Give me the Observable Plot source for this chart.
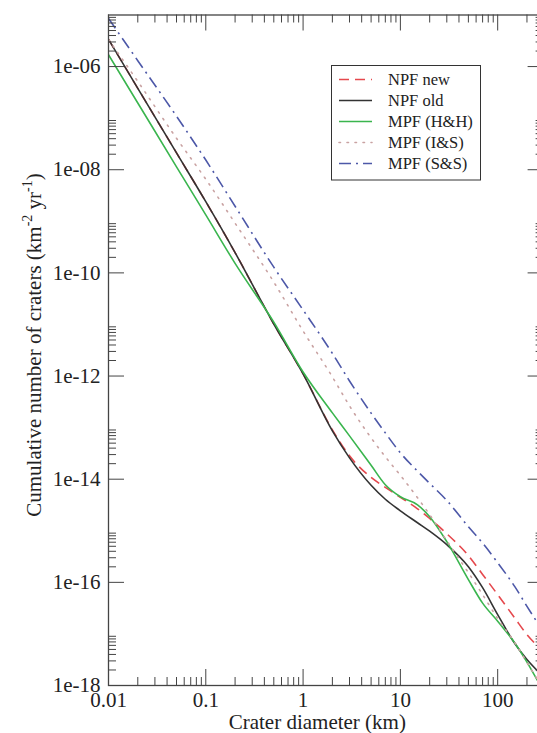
<!DOCTYPE html>
<html><head><meta charset="utf-8">
<script src="https://cdn.jsdelivr.net/npm/d3@7"></script>
<script src="https://cdn.jsdelivr.net/npm/@observablehq/plot@0.6"></script>
<style>html,body{margin:0;padding:0;background:#fff;overflow:hidden;} svg{display:block}</style>
</head><body><div id="chart"></div>
<script>
// ---- data ----
const diameters = [0.01, 0.02, 0.05, 0.1, 0.2, 0.5, 1, 2, 3, 5, 7, 10, 15, 20, 30, 50, 70, 100, 150, 200, 260];
const npfNew = [3.37e-6, 3.79e-7, 2.12e-8, 2.40e-9, 2.47e-10, 1.02e-11, 1.10e-12, 9.03e-14, 2.84e-14, 1.08e-14, 6.96e-15, 4.45e-15, 2.67e-15, 1.73e-15, 8.77e-16, 3.30e-16, 1.42e-16, 5.78e-17, 2.03e-17, 9.7e-18, 5.69e-18];
const npfOld = [3.37e-6, 3.79e-7, 2.12e-8, 2.40e-9, 2.47e-10, 1.02e-11, 1.10e-12, 8.65e-14, 2.59e-14, 7.62e-15, 4.08e-15, 2.44e-15, 1.43e-15, 9.8e-16, 5.37e-16, 2.01e-16, 7.88e-17, 2.37e-17, 6.50e-18, 3.18e-18, 1.87e-18];
const mpfHH = [1.70e-6, 1.97e-7, 1.14e-8, 1.33e-9, 1.53e-10, 1.11e-11, 1.20e-12, 1.93e-13, 6.92e-14, 1.86e-14, 7.80e-15, 4.56e-15, 3.19e-15, 1.87e-15, 6.14e-16, 1.13e-16, 3.95e-17, 1.77e-17, 6.65e-18, 2.85e-18, 1.19e-18];
const mpfIS = [3.37e-6, 5.16e-7, 4.07e-8, 6.55e-9, 9.20e-10, 6.64e-11, 7.46e-12, 9.62e-13, 2.64e-13, 6.34e-14, 2.72e-14, 1.19e-14, 4.37e-15, 2.05e-15, 6.41e-16, 1.54e-16, 5.78e-17, 1.98e-17, 6.81e-18, 2.79e-18, 1.25e-18];
const mpfSS = [8.57e-6, 1.30e-6, 1.09e-7, 1.54e-8, 1.96e-9, 1.29e-10, 1.91e-11, 2.75e-12, 8.03e-13, 1.91e-13, 7.90e-14, 3.24e-14, 1.43e-14, 8.30e-15, 3.87e-15, 1.20e-15, 5.77e-16, 2.40e-16, 8.26e-17, 3.43e-17, 1.58e-17];
const seriesNames = ["NPF new", "NPF old", "MPF (H&H)", "MPF (I&S)", "MPF (S&S)"];
const xTickValues = [0.01, 0.1, 1, 10, 100];
const xTickLabels = ["0.01", "0.1", "1", "10", "100"];
const yTickValues = [1e-18, 1e-16, 1e-14, 1e-12, 1e-10, 1e-8, 1e-6];
const yTickLabels = ["1e-18", "1e-16", "1e-14", "1e-12", "1e-10", "1e-08", "1e-06"];
const xTitle = "Crater diameter (km)";
const yTitleParts = ["Cumulative number of craters (km", "-2", " yr", "-1", ")"];

// ---- styles ----
const seriesValues = [npfNew, npfOld, mpfHH, mpfIS, mpfSS];
const seriesStyle = [
  {stroke: "#e5484d", dash: "10,6", cap: "butt"},
  {stroke: "#333333", dash: null, cap: "butt"},
  {stroke: "#3ab54e", dash: null, cap: "butt"},
  {stroke: "#c9a2a2", dash: "1.5,6.5", cap: "round"},
  {stroke: "#4d58a8", dash: "12,5,2,5", cap: "butt"}
];
const drawOrder = [0, 1, 2, 3, 4];

const W = 537, H = 733, mL = 108, mT = 14.5, mB = 48, mR = -6.6;
const plotW = W - mL - mR, plotH = H - mT - mB;
const FONT = "'Liberation Serif','Times New Roman',serif";
const INK = "#222";
const AX = "#444";

const xMinor = [];
for (const d of [0.01, 0.1, 1, 10, 100]) for (let k = 2; k <= 9; k++) if (k * d < 300) xMinor.push(k * d);
const yMinor = [];
for (const e of yTickValues) for (let k = 2; k <= 9; k++) yMinor.push(k * e);

const xLab = new Map(xTickValues.map((v, i) => [v, xTickLabels[i]]));
const yLab = new Map(yTickValues.map((v, i) => [v, yTickLabels[i]]));

const lineMarks = drawOrder.map(s => {
  const rows = diameters.map((d, i) => ({d, v: seriesValues[s][i]}));
  const st = seriesStyle[s];
  return Plot.line(rows, {x: "d", y: "v", stroke: st.stroke, strokeWidth: 1.6,
    strokeDasharray: st.dash, strokeLinecap: st.cap, curve: "monotone-x", clip: true});
});

const chart = Plot.plot({
  width: W, height: H,
  marginLeft: mL, marginRight: mR, marginTop: mT, marginBottom: mB,
  style: {fontFamily: FONT, fontSize: "21px", color: INK, background: "#fff"},
  x: {type: "log", domain: [0.01, 300], axis: null},
  y: {type: "log", domain: [1e-18, 1e-5], axis: null},
  marks: [
    ...lineMarks,
    // bottom / top ticks (inward)
    Plot.tickX(xTickValues, {x: d => d, insetTop: plotH - 16, stroke: AX}),
    Plot.tickX(xMinor, {x: d => d, insetTop: plotH - 8, stroke: AX}),
    Plot.tickX(xTickValues, {x: d => d, insetBottom: plotH - 16, stroke: AX}),
    Plot.tickX(xMinor, {x: d => d, insetBottom: plotH - 8, stroke: AX}),
    // left / right ticks (inward)
    Plot.tickY(yTickValues, {y: d => d, insetRight: plotW - 16, stroke: AX}),
    Plot.tickY(yMinor, {y: d => d, insetRight: plotW - 8, stroke: AX}),
    Plot.tickY(yTickValues, {y: d => d, insetLeft: plotW - 16, stroke: AX}),
    Plot.tickY(yMinor, {y: d => d, insetLeft: plotW - 8, stroke: AX}),
    Plot.frame({stroke: AX, strokeWidth: 1.3}),
    Plot.axisX(xTickValues, {anchor: "bottom", label: null, tickSize: 0, tickPadding: 7, fontSize: 21, fill: INK,
      tickFormat: d => xLab.get(d)}),
    Plot.axisY(yTickValues, {anchor: "left", label: null, tickSize: 0, tickPadding: 8, fontSize: 21, fill: INK,
      tickFormat: d => yLab.get(d)}),
    Plot.text([xTitle], {frameAnchor: "bottom", dy: 37, dx: -9, fontSize: 21, fill: INK, lineAnchor: "middle"})
  ]
});
document.getElementById("chart").appendChild(chart);

const svg = d3.select(chart);
// y title with superscripts
const yt = svg.append("text")
  .attr("transform", "translate(41,345) rotate(-90)")
  .attr("text-anchor", "middle")
  .attr("font-family", FONT).attr("font-size", 21).attr("fill", INK);
yt.append("tspan").text(yTitleParts[0]);
yt.append("tspan").attr("font-size", 14).attr("dy", -9).text(yTitleParts[1]);
yt.append("tspan").attr("dy", 9).text(yTitleParts[2]);
yt.append("tspan").attr("font-size", 14).attr("dy", -9).text(yTitleParts[3]);
yt.append("tspan").attr("dy", 9).text(yTitleParts[4]);

// legend
const lg = svg.append("g");
lg.append("rect").attr("x", 331.5).attr("y", 65.5).attr("width", 149).attr("height", 114.5)
  .attr("fill", "#fff").attr("stroke", "#333").attr("stroke-width", 1);
seriesNames.forEach((name, i) => {
  const y = 79.5 + i * 21;
  const st = seriesStyle[i];
  lg.append("line").attr("x1", 339).attr("x2", 372).attr("y1", y).attr("y2", y)
    .attr("stroke", st.stroke).attr("stroke-width", 1.6)
    .attr("stroke-dasharray", st.dash).attr("stroke-linecap", st.cap);
  lg.append("text").attr("x", 388).attr("y", y).attr("dy", "0.35em")
    .attr("text-anchor", "start")
    .attr("font-family", FONT).attr("font-size", 16.5).attr("fill", INK).text(name);
});
</script>
</body></html>
